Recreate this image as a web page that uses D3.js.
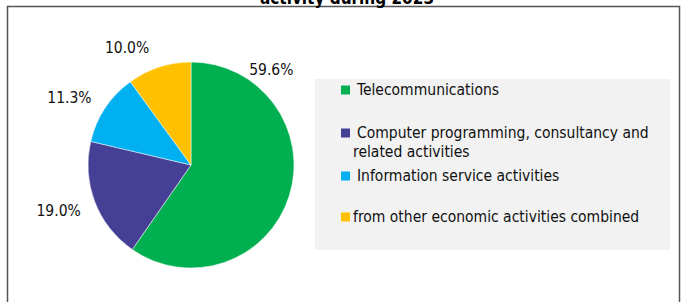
<!DOCTYPE html>
<html>
<head>
<meta charset="utf-8">
<script src="https://cdn.jsdelivr.net/npm/d3@7"></script>
<style>
  body { margin: 0; background: #fff; }
  svg { font-family: "DejaVu Sans Condensed", "Noto Sans", sans-serif; }
</style>
</head>
<body>
<div id="chart"></div>
<script>
var categories = ["Telecommunications", "Computer programming, consultancy and related activities", "Information service activities", "from other economic activities combined"];
var legendLines = [["Telecommunications"], ["Computer programming, consultancy and", "related activities"], ["Information service activities"], ["from other economic activities combined"]];
var shares = [59.6, 19.0, 11.3, 10.0];
var labels = ["59.6%", "19.0%", "11.3%", "10.0%"];
var colors = ["#00b050", "#463f96", "#00b0f0", "#ffc000"];

var W = 688, H = 302;
var svg = d3.select("#chart").append("svg").attr("width", W).attr("height", H);

// frame
svg.append("rect").attr("x", 7.5).attr("y", 6.5).attr("width", 672).attr("height", 310)
  .attr("fill", "none").attr("stroke", "#555").attr("stroke-width", 1.5);

// title (cut off at top)
svg.append("text").attr("x", 347).attr("y", 4).attr("text-anchor", "middle")
  .attr("font-weight", "bold").attr("font-size", 17).attr("fill", "#000")
  .text("activity during 2023");

// legend box
svg.append("rect").attr("x", 315).attr("y", 79).attr("width", 355).attr("height", 171).attr("fill", "#f2f2f2");
var legY = [90, 133, 176, 217];
var lg = svg.selectAll("g.leg").data(categories).enter().append("g").attr("class", "leg")
  .attr("transform", function (d, i) { return "translate(341," + legY[i] + ")"; });
lg.append("rect").attr("x", 0).attr("y", -4.5).attr("width", 9).attr("height", 9)
  .attr("fill", function (d, i) { return colors[i]; });
lg.each(function (d, i) {
  var t = d3.select(this).append("text").attr("font-size", 15.5).attr("fill", "#111");
  legendLines[i].forEach(function (line, j) {
    t.append("tspan").attr("x", j === 0 ? (i === 3 ? 12 : 16) : 12).attr("y", j * 19).attr("dy", "0.35em").text(line);
  });
});

// pie
var cx = 191, cy = 165, r = 103;
var pie = d3.pie().sort(null).value(function (d) { return d; });
var arc = d3.arc().innerRadius(0).outerRadius(r);
var arcs = pie(shares);

var g = svg.append("g").attr("transform", "translate(" + cx + "," + cy + ")");
g.selectAll("path").data(arcs).enter().append("path")
  .attr("d", arc)
  .attr("fill", function (d, i) { return colors[i]; })
  .attr("stroke", "#fff").attr("stroke-width", 0.5);

// label placement (angle in degrees clockwise from top, distance from centre)
var labelAngle = [40, 251, 299, 331.5];
var labelDist = [125, 140, 139, 134];
g.selectAll("text.lbl").data(arcs).enter().append("text")
  .attr("class", "lbl")
  .attr("x", function (d, i) { return labelDist[i] * Math.sin(labelAngle[i] * Math.PI / 180); })
  .attr("y", function (d, i) { return -labelDist[i] * Math.cos(labelAngle[i] * Math.PI / 180); })
  .attr("dy", "0.35em")
  .attr("text-anchor", "middle")
  .attr("font-size", 15.5).attr("fill", "#111")
  .text(function (d, i) { return labels[i]; });
</script>
</body>
</html>
